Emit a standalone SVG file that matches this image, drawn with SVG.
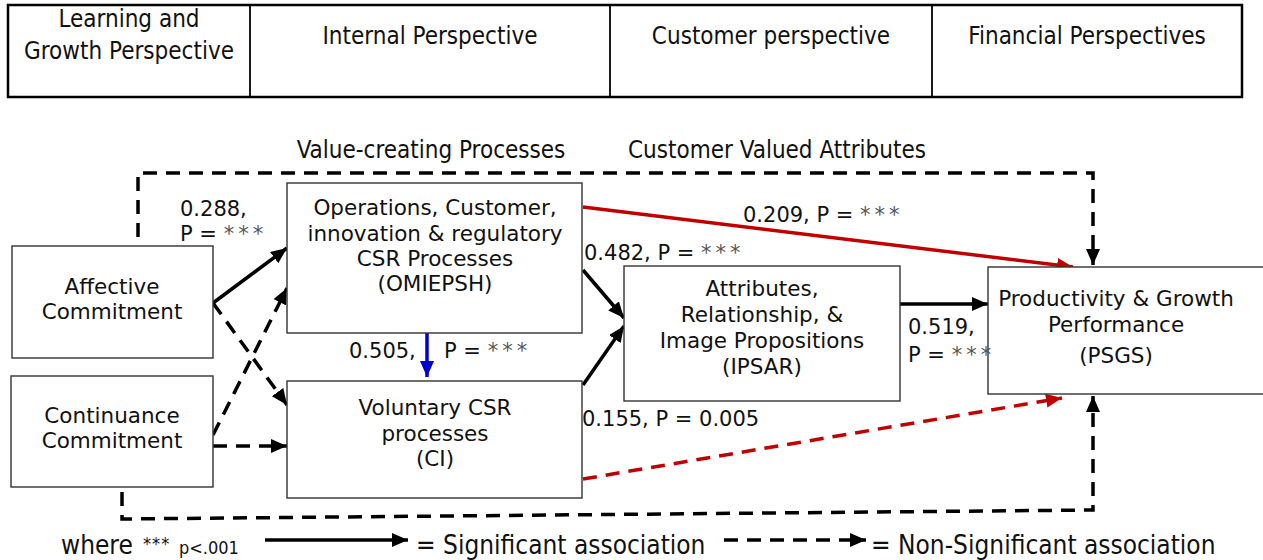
<svg xmlns="http://www.w3.org/2000/svg" width="1263" height="560" viewBox="0 0 1263 560">
<style>
.box{fill:#fff;stroke:#333;stroke-width:1.4}
.hdr{fill:none;stroke:#000;stroke-width:2.5}
.ht{font-family:"DejaVu Sans Condensed","DejaVu Sans",sans-serif;font-size:24px;fill:#111;text-anchor:middle}
.nt{font-family:"DejaVu Sans",Verdana,sans-serif;font-size:21.5px;fill:#111;text-anchor:middle}
.lb{font-family:"DejaVu Sans",Verdana,sans-serif;font-size:21px;fill:#111}
.st{fill:#555;letter-spacing:4px}
.lg{font-family:"DejaVu Sans Condensed","DejaVu Sans",sans-serif;font-size:26px;fill:#111}
.sm{font-family:"DejaVu Sans Condensed","DejaVu Sans",sans-serif;font-size:18px;fill:#111}
.sol{fill:none;stroke:#000;stroke-width:3.5}
.dsh{fill:none;stroke:#000;stroke-width:3.5;stroke-dasharray:14 9}
.red{fill:none;stroke:#c00000;stroke-width:3.5}
.rdd{fill:none;stroke:#c00000;stroke-width:3.5;stroke-dasharray:14 9}
.blu{fill:none;stroke:#0000cc;stroke-width:3.5}
</style>
<defs>
<marker id="ak" markerUnits="userSpaceOnUse" markerWidth="16" markerHeight="14" refX="16" refY="7" orient="auto"><path d="M0,0 L16,7 L0,14 z" fill="#000"/></marker>
<marker id="ar" markerUnits="userSpaceOnUse" markerWidth="16" markerHeight="14" refX="16" refY="7" orient="auto"><path d="M0,0 L16,7 L0,14 z" fill="#c00000"/></marker>
<marker id="ab" markerUnits="userSpaceOnUse" markerWidth="16" markerHeight="14" refX="16" refY="7" orient="auto"><path d="M0,0 L16,7 L0,14 z" fill="#0000cc"/></marker>
</defs>
<rect width="1263" height="560" fill="#fff"/>
<g id="header">
<rect class="hdr" x="8" y="5" width="1234" height="92"/>
<line class="hdr" x1="250" y1="5" x2="250" y2="97" style="stroke-width:1.8"/>
<line class="hdr" x1="610" y1="5" x2="610" y2="97" style="stroke-width:1.8"/>
<line class="hdr" x1="932" y1="5" x2="932" y2="97" style="stroke-width:1.8"/>
<text class="ht" x="129" y="27">Learning and</text>
<text class="ht" x="129" y="59">Growth Perspective</text>
<text class="ht" x="430" y="44">Internal Perspective</text>
<text class="ht" x="771" y="44">Customer perspective</text>
<text class="ht" x="1087" y="44">Financial Perspectives</text>
</g>
<g id="section-labels">
<text class="ht" x="431" y="158">Value-creating Processes</text>
<text class="ht" x="777" y="158">Customer Valued Attributes</text>
</g>
<g id="connectors">
<path class="dsh" d="M138,237 V173 H1093 V265" marker-end="url(#ak)"/>
<path class="dsh" d="M122,492 V519 L1093,510 V396" marker-end="url(#ak)"/>
<line class="sol" x1="213" y1="303" x2="287" y2="248" marker-end="url(#ak)"/>
<line class="dsh" x1="213" y1="303" x2="287" y2="405" marker-end="url(#ak)"/>
<line class="dsh" x1="213" y1="435" x2="287" y2="288" marker-end="url(#ak)"/>
<line class="dsh" x1="213" y1="446" x2="287" y2="446" marker-end="url(#ak)"/>
<line class="blu" x1="427" y1="333" x2="427" y2="377" marker-end="url(#ab)"/>
<line class="sol" x1="583" y1="270" x2="624" y2="318" marker-end="url(#ak)"/>
<line class="sol" x1="583" y1="385" x2="624" y2="326" marker-end="url(#ak)"/>
<line class="red" x1="583" y1="207" x2="1073" y2="267" marker-end="url(#ar)"/>
<line class="sol" x1="900" y1="304" x2="988" y2="304" marker-end="url(#ak)"/>
<line class="rdd" x1="583" y1="479" x2="1062" y2="398" marker-end="url(#ar)"/>
</g>
<g id="n-affective">
<rect class="box" x="12" y="246" width="201" height="112"/>
<text class="nt" x="112" y="294">Affective</text>
<text class="nt" x="112" y="319">Commitment</text>
</g>
<g id="n-continuance">
<rect class="box" x="11" y="376" width="202" height="111"/>
<text class="nt" x="112" y="423">Continuance</text>
<text class="nt" x="112" y="448">Commitment</text>
</g>
<g id="n-omiepsh">
<rect class="box" x="287" y="183" width="295" height="150"/>
<text class="nt" x="435" y="215">Operations, Customer,</text>
<text class="nt" x="435" y="241">innovation &amp; regulatory</text>
<text class="nt" x="435" y="266">CSR Processes</text>
<text class="nt" x="435" y="291">(OMIEPSH)</text>
</g>
<g id="n-ci">
<rect class="box" x="287" y="381" width="295" height="117"/>
<text class="nt" x="435" y="415">Voluntary CSR</text>
<text class="nt" x="435" y="441">processes</text>
<text class="nt" x="435" y="466">(CI)</text>
</g>
<g id="n-ipsar">
<rect class="box" x="624" y="266" width="276" height="135"/>
<text class="nt" x="762" y="296">Attributes,</text>
<text class="nt" x="762" y="322">Relationship, &amp;</text>
<text class="nt" x="762" y="348">Image Propositions</text>
<text class="nt" x="762" y="374">(IPSAR)</text>
</g>
<g id="n-psgs">
<rect class="box" x="988" y="267" width="290" height="127"/>
<text class="nt" x="1116" y="306">Productivity &amp; Growth</text>
<text class="nt" x="1116" y="332">Performance</text>
<text class="nt" x="1116" y="363">(PSGS)</text>
</g>
<g id="edge-labels">
<text class="lb" x="180" y="216">0.288,</text>
<text class="lb" x="180" y="241">P = <tspan class="st">***</tspan></text>
<text class="lb" x="743" y="222">0.209, P = <tspan class="st">***</tspan></text>
<text class="lb" x="584" y="260">0.482, P = <tspan class="st">***</tspan></text>
<text class="lb" x="349" y="358">0.505,</text>
<text class="lb" x="444" y="358">P = <tspan class="st">***</tspan></text>
<text class="lb" x="908" y="334">0.519,</text>
<text class="lb" x="908" y="362">P = <tspan class="st">***</tspan></text>
<text class="lb" x="582" y="426">0.155, P = 0.005</text>
</g>
<g id="legend">
<text class="lg" x="61" y="554">where</text>
<text class="sm" x="143" y="550" style="letter-spacing:1px">***</text>
<text class="sm" x="179" y="554">p&lt;.001</text>
<line class="sol" x1="265" y1="540" x2="408" y2="540" marker-end="url(#ak)"/>
<text class="lg" x="416" y="554">= Significant association</text>
<line class="dsh" x1="724" y1="540" x2="866" y2="540" marker-end="url(#ak)"/>
<text class="lg" x="871" y="554">= Non-Significant association</text>
</g>
</svg>
